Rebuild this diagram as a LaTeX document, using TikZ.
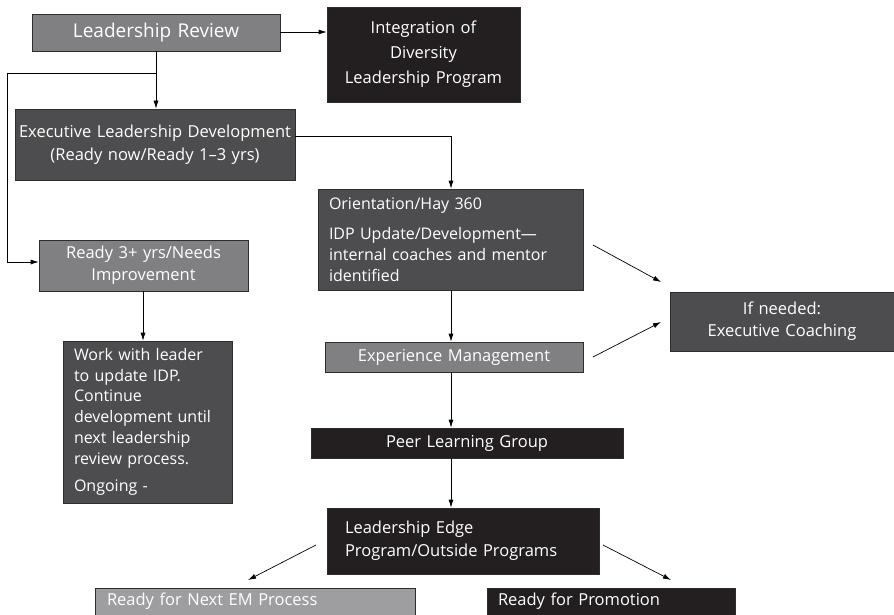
\documentclass[tikz,border=0pt]{standalone}
\usepackage{fontspec}
\setmainfont{Open Sans}
\usetikzlibrary{arrows.meta,calc}
\definecolor{gmid}{RGB}{128,128,131}
\definecolor{gdark}{RGB}{77,77,79}
\definecolor{gblack}{RGB}{35,31,32}
\definecolor{glight}{RGB}{158,158,161}
\definecolor{gedge}{RGB}{45,45,45}
\newcommand{\bx}[8]{% name, x1, y1, x2, y2, pad, style, text
  \node[#7, inner xsep=#6, minimum width={#4-#2}, minimum height={#5-#3}, text width={#4-#2-2*#6}] (#1) at ({(#2+#4)/2},{(#3+#5)/2}) {#8};}
\tikzset{
  basebox/.style={draw=gedge, line width=0.7pt, text=white, inner ysep=0pt, font=\fontsize{16.5}{23}\selectfont},
  midbox/.style={basebox, fill=gmid, align=center},
  darkbox/.style={basebox, fill=gdark, align=center},
  blackbox/.style={basebox, fill=gblack, align=center},
  lightbox/.style={basebox, fill=glight, align=left},
  leftbox/.style={align=left, font=\fontsize{16}{20.7}\selectfont},
  conn/.style={line width=0.7pt, draw=black},
  arr/.style={conn, -{Latex[length=8pt,width=5pt]}},
}
\begin{document}
\begin{tikzpicture}[x=1pt,y=-1pt]
\useasboundingbox (0,0) rectangle (894,615);
% nodes
\bx{LR}{32}{14}{280}{51}{4}{midbox, font=\fontsize{19}{22}\selectfont}{Leadership Review}
\bx{INT}{327}{7}{520}{102}{4}{blackbox, font=\fontsize{16.5}{25}\selectfont}{Integration of\\Diversity\\Leadership Program}
\bx{ELD}{15}{109}{295}{180}{2}{darkbox}{Executive Leadership Development\\(Ready now/Ready 1--3 yrs)}
\bx{ORI}{318}{189}{583}{290}{11}{darkbox, leftbox}{Orientation/Hay 360\\[10pt]IDP Update/Development---\\internal coaches and mentor\\identified}
\bx{R3}{39}{240}{248}{291}{4}{midbox, font=\fontsize{16.5}{22}\selectfont}{Ready 3+ yrs/Needs\\Improvement}
\bx{WORK}{63}{341}{232}{503}{11}{darkbox, leftbox}{Work with leader\\to update IDP.\\Continue\\development until\\next leadership\\review process.\\[7pt]Ongoing -}
\bx{EM}{325}{342}{583}{372}{4}{midbox}{Experience Management}
\bx{EC}{670}{292}{894}{351}{4}{darkbox, font=\fontsize{16.5}{22}\selectfont}{If needed:\\Executive Coaching}
\bx{PEER}{311}{428}{623}{458}{4}{blackbox}{Peer Learning Group}
\bx{LE}{327}{508}{599}{574}{18}{blackbox, align=left}{Leadership Edge\\Program/Outside Programs}
\bx{NEXT}{95}{588}{415}{615}{12}{lightbox}{Ready for Next EM Process}
\bx{PROM}{487}{588}{735}{615}{11}{blackbox, align=left}{Ready for Promotion}
% helper coordinates
\coordinate (XL) at (156,0);
\coordinate (XO) at (451,0);
\coordinate (XR) at (143,0);
\coordinate (BR) at (156,73);
\coordinate (BL) at (7,73);
\coordinate (BD) at (7,262);
\coordinate (EK) at (451,136);
\coordinate (YT) at (0,32);
\coordinate (A1s) at (593,245); \coordinate (A1e) at (661,282);
\coordinate (A2s) at (593,357); \coordinate (A2e) at (661,322);
\coordinate (A3s) at (316,545); \coordinate (A3e) at (248,580);
\coordinate (A4s) at (603,545); \coordinate (A4e) at (671,580);
% connectors
\draw[arr] (LR.east |- YT) -- (INT.west |- YT);
\draw[arr] (LR.south -| XL) -- (ELD.north -| XL);
\draw[arr] (BR) -- (BL) -- (BD) -- (R3.west |- BD);
\draw[arr] (ELD.east |- EK) -- (EK) -- (ORI.north -| XO);
\draw[arr] (R3.south -| XR) -- (WORK.north -| XR);
\draw[arr] (ORI.south -| XO) -- (EM.north -| XO);
\draw[arr] (EM.south -| XO) -- (PEER.north -| XO);
\draw[arr] (PEER.south -| XO) -- (LE.north -| XO);
\draw[arr] (A1s) -- (A1e);
\draw[arr] (A2s) -- (A2e);
\draw[arr] (A3s) -- (A3e);
\draw[arr] (A4s) -- (A4e);
\end{tikzpicture}
\end{document}
